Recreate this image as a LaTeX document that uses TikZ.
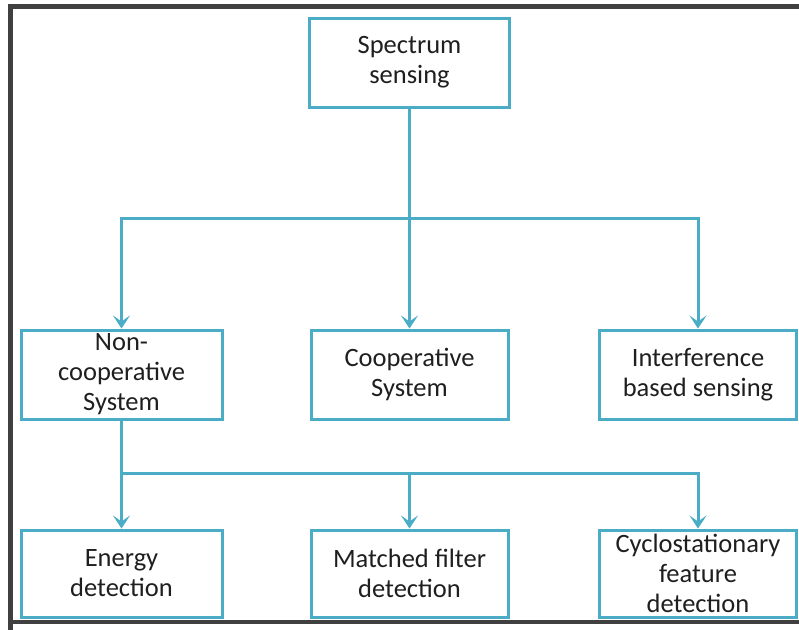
\documentclass[tikz,border=0pt]{standalone}
\usepackage{fontspec}
\setmainfont{Carlito}
\usetikzlibrary{arrows.meta}
\definecolor{teal1}{HTML}{4BACC6}
\definecolor{txt}{HTML}{1F1F1F}
\definecolor{frame}{HTML}{404040}
\tikzset{
  box/.style={draw=teal1, line width=3pt, fill=white, inner sep=0pt, align=center,
    text=txt, font=\fontsize{26.5}{30}\selectfont},
  conn/.style={draw=teal1, line width=3pt},
  arr/.style={conn, -{Stealth[length=13pt,width=17pt,inset=6pt]}}
}
\begin{document}
\begin{tikzpicture}[x=1pt,y=-1pt]
\useasboundingbox (0,0) rectangle (799,629);
\fill[white] (0,0) rectangle (799,629);
% frame
\draw[frame, line width=5pt] (10,630) -- (10,6) -- (805,6);
\draw[frame, line width=4pt] (8,622) -- (805,622);
% boxes
\node[box, minimum width=200pt, minimum height=89pt] (top) at (409.5,62.5) {Spectrum\\sensing};
\node[box, minimum width=201pt, minimum height=89pt] (nc) at (121.5,374.5) {Non-\\cooperative\\System};
\node[box, minimum width=197pt, minimum height=89pt] (co) at (409.5,374.5) {Cooperative\\System};
\node[box, minimum width=197pt, minimum height=89pt] (in) at (698,374.5) {Interference\\based sensing};
\node[box, minimum width=201pt, minimum height=87pt] (en) at (121.5,573.5) {Energy\\detection};
\node[box, minimum width=197pt, minimum height=87pt] (mf) at (409.5,573.5) {Matched filter\\detection};
\node[box, minimum width=197pt, minimum height=87pt] (cy) at (698,573.5) {Cyclostationary\\feature\\detection};
% branch coordinates
\coordinate (j1) at (409.5,218);
\coordinate (j2) at (121.5,473);
% connectors
\draw[conn] (top.south) -- (j1);
\draw[arr] (j1) -| (nc.north);
\draw[arr] (j1) -| (in.north);
\draw[arr] (j1) -- (co.north);
\draw[conn] (nc.south) -- (j2);
\draw[arr] (j2) -- (en.north);
\draw[arr] (j2) -| (mf.north);
\draw[arr] (j2) -| (cy.north);
\end{tikzpicture}
\end{document}
